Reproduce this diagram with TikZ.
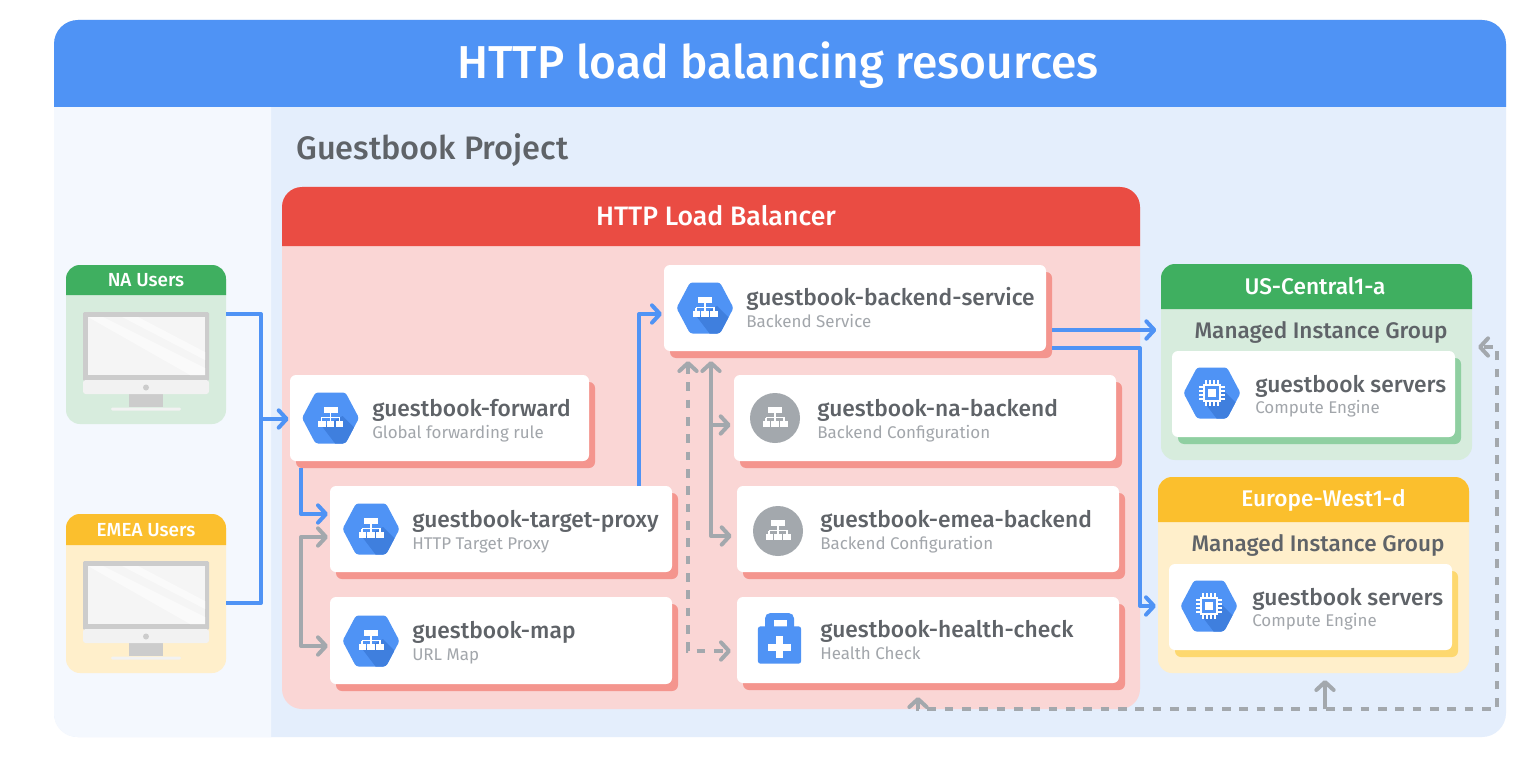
\documentclass[tikz,border=0pt]{standalone}
\usepackage{fontspec}
\usetikzlibrary{arrows.meta,calc}
\setmainfont{Fira Sans}
\newfontfamily\medf{Fira Sans Medium}
\definecolor{gblue}{HTML}{4F93F5}
\definecolor{gbluedk}{HTML}{3F7FDE}
\definecolor{paneL}{HTML}{F4F8FE}
\definecolor{paneR}{HTML}{E4EEFC}
\definecolor{lbred}{HTML}{EA4C43}
\definecolor{lbbody}{HTML}{FAD6D5}
\definecolor{salmon}{HTML}{F4958E}
\definecolor{ggreen}{HTML}{3FAF60}
\definecolor{greenbody}{HTML}{D7ECDD}
\definecolor{greenshadow}{HTML}{8FCFA1}
\definecolor{gyellow}{HTML}{FBBF2D}
\definecolor{yellowbody}{HTML}{FFEFCB}
\definecolor{yellowshadow}{HTML}{FDD86F}
\definecolor{tdark}{HTML}{5F6368}
\definecolor{tlight}{HTML}{A2A6AB}
\definecolor{garrow}{HTML}{A3A8AD}
\tikzset{
  boxn/.style={inner sep=0pt,outer sep=0pt,draw=none},
  cardt/.style={anchor=base west,inner sep=0pt,text=tdark,font=\medf\fontsize{17.1}{18}\selectfont},
  cards/.style={anchor=base west,inner sep=0pt,text=tlight,font=\fontsize{12.7}{14}\selectfont},
  bluel/.style={draw=gblue,line width=3pt,line join=round},
  grayl/.style={draw=garrow,line width=3pt,line join=round},
  dashl/.style={draw=garrow,line width=3pt,dash pattern=on 6.5pt off 6.5pt},
  tip/.style={-{Straight Barb[length=6pt,width=13pt,line width=3pt,round]}},
  tips/.style={{Straight Barb[length=6pt,width=13pt,line width=3pt,round]}-{Straight Barb[length=6pt,width=13pt,line width=3pt,round]}},
}
% name x0 y0 x1 y1 radius fill
\newcommand\rbox[7]{\node[boxn,fill=#7,rounded corners=#6*0.75pt,minimum width={(#4-#2)*0.75pt},minimum height={(#5-#3)*0.75pt}] (#1) at ({(#2+#4)/2},{(#3+#5)/2}) {};}
% top-rounded header
\newcommand\hdr[6]{\fill[#6] (#1,#4) [rounded corners=#5*0.75pt] -- (#1,#2) -- (#3,#2) [sharp corners] -- (#3,#4) -- cycle;}
% card: name x0 y0 x1 y1 shadowcolor
\newcommand\card[6]{%
  \fill[#6,rounded corners=4.5pt] ({#2+6},{#3+7}) rectangle ({#4+6},{#5+7});
  \rbox{#1}{#2}{#3}{#4}{#5}{6}{white}}
\newcommand\labels[6]{%
  \node[cardt] (#1t) at (#2,#3) {#5};
  \node[cards] (#1s) at (#2,#4) {#6};}
\newcommand\hexpath{(-28.5,0) -- (-15,-25.5) -- (15,-25.5) -- (28.5,0) -- (15,25.5) -- (-15,25.5) -- cycle}
\newcommand\orgglyph{%
  \fill[white] (-7,-11) rectangle (7,-5);
  \fill[white] (-0.9,-5) rectangle (0.9,3);
  \fill[white] (-9.5,-1.2) rectangle (9.5,0.4);
  \fill[white] (-9.9,0) rectangle (-8.3,3);
  \fill[white] (8.3,0) rectangle (9.9,3);
  \fill[white] (-12.5,3) rectangle (-5,8.5);
  \fill[white] (-3.7,3) rectangle (3.7,8.5);
  \fill[white] (5,3) rectangle (12.5,8.5);}
\newcommand\hexbase{%
  \fill[gblue,rounded corners=2pt] \hexpath;
  \begin{scope}
    \clip[rounded corners=2pt] \hexpath;
    \fill[gbluedk] (12,-2) -- (44,30) -- (8,30) -- (-8,9) -- cycle;
  \end{scope}}
\newcommand\orghex[2]{\begin{scope}[shift={(#1,#2)}]\hexbase\orgglyph\end{scope}}
\newcommand\cpuhex[2]{\begin{scope}[shift={(#1,#2)}]\hexbase
  \foreach \p in {-6,-2,2,6}{
    \fill[white] (\p-0.7,-13) rectangle (\p+0.7,13);
    \fill[white] (-13,\p-0.7) rectangle (13,\p+0.7);}
  \fill[white] (-9,-9) rectangle (9,9);
  \fill[gblue] (-6.7,-6.7) rectangle (6.7,6.7);
  \fill[white] (-4,-4) rectangle (4,4);
\end{scope}}
\newcommand\grayicon[3]{\begin{scope}[shift={(#2,#3)}]
  \node[boxn,circle,fill=garrow,minimum size=37.5pt] (#1) at (0,0) {};
  \orgglyph\end{scope}}
% monitor at offset y
\newcommand\monitor[1]{\begin{scope}[shift={(0,#1)}]
  \fill[black!20,rounded corners=1pt] (83,312) rectangle (209,381);
  \fill[black!4] (88,317) rectangle (205,375);
  \fill[black!2] (88,317) -- (103,317) -- (205,368) -- (205,375) -- (190,375) -- cycle;
  \fill[black!2] (122,317) -- (138,317) -- (205,352) -- (205,360) -- cycle;
  \fill[black!20] (129,394) rectangle (163,407);
  \fill[black!5,rounded corners=2pt] (83,380) rectangle (209,394);
  \fill[black!20] (146,387.5) circle (3);
  \fill[black!5,rounded corners=1pt] (111,407.5) rectangle (181,410.5);
\end{scope}}
\begin{document}
\begin{tikzpicture}[x=0.75pt,y=-0.75pt]
\useasboundingbox (0,0) rectangle (1538,770);
\fill[white] (0,0) rectangle (1538,770);
% outer panels
\rbox{outer}{54}{20}{1506}{737}{24}{paneR}
\fill[paneL] (271,737) -- (271,100) -- (54,100) -- (54,713) .. controls (54,727) and (64,737) .. (78,737) -- cycle;
\hdr{54}{20}{1506}{107}{24}{gblue}
\node[boxn,text=white,font=\medf\fontsize{34.6}{38}\selectfont] (title) at (778,65) {HTTP load balancing resources};
\node[anchor=base west,inner sep=0pt,text=tdark,font=\medf\fontsize{24.4}{26}\selectfont] (project) at (296,160) {Guestbook Project};
% load balancer
\rbox{lb}{282}{187}{1140}{709}{20}{lbbody}
\hdr{282}{187}{1140}{246}{20}{lbred}
\node[boxn,text=white,font=\medf\fontsize{20}{22}\selectfont] (lbtitle) at (716,216) {HTTP Load Balancer};
% users
\rbox{na}{66}{265}{226}{424}{14}{greenbody}
\hdr{66}{265}{226}{295}{14}{ggreen}
\node[boxn,text=white,font=\medf\fontsize{14.2}{16}\selectfont] (natitle) at (146,280) {NA Users};
\monitor{0}
\rbox{emea}{66}{514}{226}{673}{14}{yellowbody}
\hdr{66}{514}{226}{545}{14}{gyellow}
\node[boxn,text=white,font=\medf\fontsize{14.2}{16}\selectfont] (emeatitle) at (146,530) {EMEA Users};
\monitor{249}
% regions
\rbox{us}{1161}{264}{1472}{460}{14}{greenbody}
\hdr{1161}{264}{1472}{309}{14}{ggreen}
\node[boxn,text=white,font=\medf\fontsize{17}{18}\selectfont] (ustitle) at (1315,286) {US-Central1-a};
\node[boxn,text=tdark,font=\medf\fontsize{16.9}{20}\selectfont] (usmig) at (1321,332) {Managed Instance Group};
\rbox{eu}{1158}{477}{1469}{673}{14}{yellowbody}
\hdr{1158}{477}{1469}{522}{14}{gyellow}
\node[boxn,text=white,font=\medf\fontsize{17}{18}\selectfont] (eutitle) at (1323.5,500) {Europe-West1-d};
\node[boxn,text=tdark,font=\medf\fontsize{16.9}{20}\selectfont] (eumig) at (1318,545) {Managed Instance Group};
% junctions
\coordinate (bus) at (261,419);
\coordinate (gj1) at (301,537);
\coordinate (gj2) at (301,646);
\coordinate (tipA) at (711,361);
\coordinate (gA) at (711,536);
\coordinate (gB) at (711,425);
\coordinate (tipB) at (688,361);
\coordinate (gC) at (688,651);
\coordinate (tipC) at (918,697);
\coordinate (d1) at (918,709);
\coordinate (d2) at (1497,709);
\coordinate (d3) at (1497,347);
\coordinate (tipD) at (1478,347);
\coordinate (d5) at (1325,709);
\coordinate (tipE) at (1325,680);
\coordinate (bj) at (1140,606);
% cards
\card{forward}{290}{375}{589}{461}{salmon}
\card{proxy}{330}{486}{672}{572}{salmon}
\card{map}{330}{597}{672}{684}{salmon}
\card{backend}{664}{265}{1046}{351}{salmon}
\card{nab}{734}{375}{1116}{461}{salmon}
\card{emeab}{737}{486}{1119}{572}{salmon}
\card{health}{737}{597}{1119}{683}{salmon}
\card{usg}{1172}{351}{1455}{437}{greenshadow}
\card{eug}{1169}{564}{1452}{650}{yellowshadow}
% connectors
\draw[bluel] (na.east |- 0,314) -| (bus);
\draw[bluel] (emea.east |- 0,603) -| (bus);
\draw[bluel,tip,shorten >=1pt] (bus) -- (forward.west |- bus);
\draw[bluel,tip,shorten >=1.5pt] (forward.south -| 301,0) ++(0,7) |- (proxy.west |- 0,514);
\draw[bluel,tip,shorten >=1.5pt] (proxy.north -| 639,0) |- (backend.west |- 0,314);
\draw[bluel,tip,shorten >=3.5pt] (1052,330) -- (us.west |- 0,330);
\draw[bluel,tip,shorten >=1.5pt] (1052,348) -| (bj) -- (eu.west |- bj);
\draw[grayl,tips,shorten >=1.5pt,shorten <=1.5pt] (proxy.west |- gj1) -- (gj1) -- (gj2) -- (map.west |- gj2);
\draw[grayl,tips,shorten >=4pt] (tipA) -- (gA) -- (emeab.west |- gA);
\draw[grayl,tip,shorten >=2.5pt] (gB) -- (nab.west |- gB);
\draw[dashl,tips,shorten >=4.5pt] (tipB) -- (gC) -- (health.west |- gC);
\draw[dashl,tips] (tipC) -- (d1) -- (d2) -- (d3) -- (tipD);
\draw[grayl,tip] (d5) -- (tipE);
% icons and labels
\orghex{330.5}{418}
\labels{forward}{372}{416}{438}{guestbook-forward}{Global forwarding rule}
\orghex{371}{529}
\labels{proxy}{412}{527}{549}{guestbook-target-proxy}{HTTP Target Proxy}
\orghex{371}{641}
\labels{map}{412}{638}{660}{guestbook-map}{URL Map}
\orghex{705}{308}
\labels{backend}{746}{305}{327}{guestbook-backend-service}{Backend Service}
\grayicon{naicon}{775}{418}
\labels{nab}{817}{416}{438}{guestbook-na-backend}{Backend Configuration}
\grayicon{emeaicon}{778}{531}
\labels{emeab}{820}{527}{549}{guestbook-emea-backend}{Backend Configuration}
% health icon
\fill[gblue,rounded corners=4pt] (765,613) rectangle (794,640);
\fill[white] (774,620) rectangle (787,627);
\node[boxn,fill=gblue,rounded corners=2pt,minimum width=32.5pt,minimum height=28pt] (healthicon) at (779.5,645) {};
\fill[white] (775.8,636) rectangle (783.2,658);
\fill[white] (768,643.5) rectangle (791,650.5);
\labels{health}{820}{637}{659}{guestbook-health-check}{Health Check}
\cpuhex{1212}{393}
\labels{usg}{1255}{392}{413}{guestbook servers}{Compute Engine}
\cpuhex{1209}{606}
\labels{eug}{1252}{605}{626}{guestbook servers}{Compute Engine}
\end{tikzpicture}
\end{document}
